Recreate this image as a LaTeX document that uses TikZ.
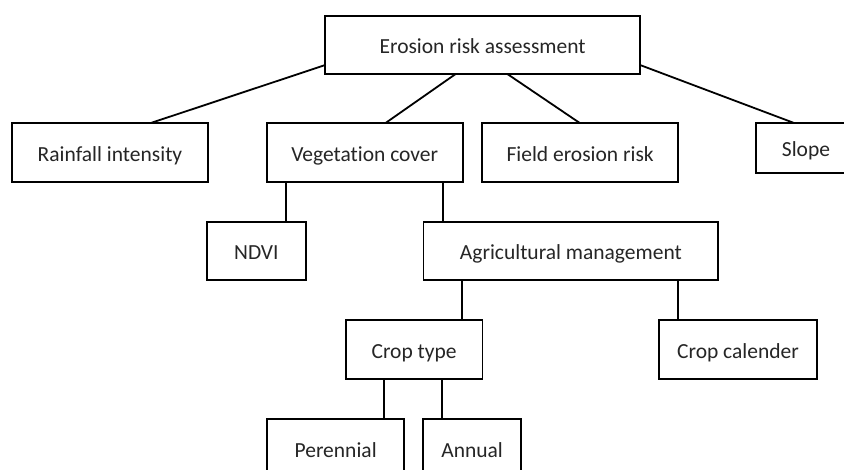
\documentclass[tikz,border=0pt]{standalone}
\usepackage{fontspec}
\setmainfont{Carlito}[Ligatures=NoCommon]
\usetikzlibrary{calc}
\definecolor{txt}{RGB}{38,38,38}
\tikzset{
  box/.style={draw=black, line width=1.8pt, rectangle, inner sep=0pt, outer sep=0pt,
    font=\fontsize{21.5pt}{24pt}\selectfont, text=txt, text height=17.6pt, text depth=0pt, align=center},
  link/.style={draw=black, line width=1.8pt}
}
\begin{document}
\begin{tikzpicture}[x=1pt,y=-1pt]
\useasboundingbox (0,0) rectangle (844,470);
\clip (0,0) rectangle (844,470);
\fill[white] (0,0) rectangle (844,470);

\node[box, minimum width=314.7pt, minimum height=58.3pt] (top) at (482.65,44.85) {Erosion risk assessment};
\node[box, minimum width=196.6pt, minimum height=59.6pt] (rain) at (110,152.5) {Rainfall intensity};
\node[box, minimum width=196pt, minimum height=59.6pt] (veg) at (364.7,152.5) {Vegetation cover};
\node[box, minimum width=196.3pt, minimum height=59.6pt] (field) at (580.15,152.5) {Field erosion risk};
\node[box, minimum width=100pt, minimum height=50pt] (slope) at (806,147.7) {Slope};
\node[box, minimum width=99.3pt, minimum height=58.3pt] (ndvi) at (256.35,250.85) {NDVI};
\node[box, minimum width=294.8pt, minimum height=58.3pt] (agri) at (570.9,250.85) {Agricultural management};
\node[box, minimum width=136.8pt, minimum height=59.3pt] (crop) at (414.1,349.65) {Crop type};
\node[box, minimum width=157.4pt, minimum height=59.3pt] (cal) at (738,349.65) {Crop calender};
\node[box, minimum width=136.7pt, minimum height=59.3pt] (per) at (335.65,448.35) {Perennial};
\node[box, minimum width=97.7pt, minimum height=59.3pt] (ann) at (472.15,448.35) {Annual};

% top-level connectors
\draw[link] ([yshift=9pt]top.south west) -- ([xshift=41.7pt]rain.north);
\draw[link] ([xshift=-27pt]top.south) -- ([xshift=21.3pt]veg.north);
\draw[link] ([xshift=24.7pt]top.south) -- ([xshift=-0.85pt]field.north);
\draw[link] ([yshift=9pt]top.south east) -- ([xshift=-12.7pt]slope.north);

% vertical connectors
\draw[link] ([xshift=29.65pt]ndvi.north) -- ([xshift=29.65pt]ndvi.north |- veg.south);
\draw[link] ([xshift=-127.9pt]agri.north) -- ([xshift=-127.9pt]agri.north |- veg.south);
\draw[link] ([xshift=47.9pt]crop.north) -- ([xshift=47.9pt]crop.north |- agri.south);
\draw[link] ([xshift=-60.3pt]cal.north) -- ([xshift=-60.3pt]cal.north |- agri.south);
\draw[link] ([xshift=48.35pt]per.north) -- ([xshift=48.35pt]per.north |- crop.south);
\draw[link] ([xshift=-29.85pt]ann.north) -- ([xshift=-29.85pt]ann.north |- crop.south);
\end{tikzpicture}
\end{document}
